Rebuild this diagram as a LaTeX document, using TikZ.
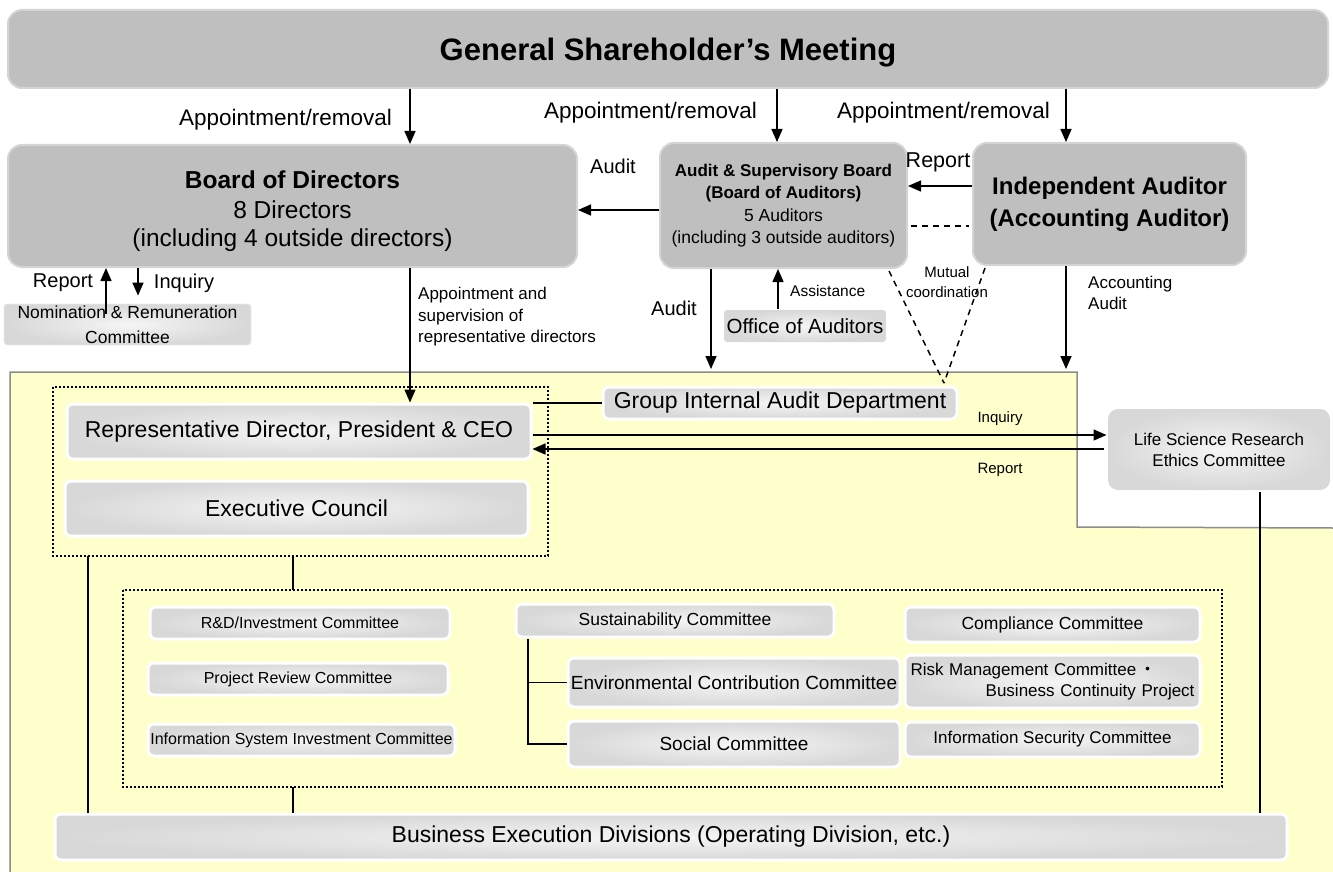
\documentclass[tikz,border=0pt]{standalone}
\usepackage{fontspec}
\setmainfont{Liberation Sans}
\newfontfamily\cjk{Noto Sans CJK JP}
\usetikzlibrary{arrows.meta,calc}
\definecolor{boxgray}{HTML}{BFBFBF}
\definecolor{boxedge}{HTML}{D4D4D4}
\definecolor{lightin}{HTML}{F5F5F5}
\definecolor{lightout}{HTML}{D8D8D8}
\definecolor{yel}{HTML}{FFFFCC}
\definecolor{yeledge}{HTML}{8C8C8C}
\newcommand\fsz[2]{\fontsize{#1}{#2}\selectfont}
\tikzset{
  bigbox/.style={draw=boxedge, line width=2pt, fill=boxgray, rounded corners=14pt, inner sep=0pt, align=center},
  gradbox/.style={draw=white, line width=3pt, inner color=lightin, outer color=lightout, rounded corners=6pt, inner sep=0pt, align=center},
  nombox/.style={draw=white!92!black, line width=0.8pt, inner color=lightin, outer color=lightout, rounded corners=3pt, inner sep=0pt, align=center},
  arr/.style={-{Triangle[length=13pt,width=11pt]}, line width=1.5pt},
  plain/.style={line width=1.5pt},
  dashln/.style={line width=1.5pt, dash pattern=on 6pt off 5pt},
  dotbox/.style={line width=1.6pt, dash pattern=on 1.6pt off 2.4pt},
  lbl/.style={inner sep=0pt, font=\fsz{22.5}{26}},
  slbl/.style={inner sep=0pt, font=\fsz{15}{21}, align=left},
  comm/.style={gradbox, font=\fsz{16}{20}, minimum height=32pt}
}
\begin{document}
\begin{tikzpicture}[x=1pt,y=-1pt]
\useasboundingbox (0,0) rectangle (1333,872);
% yellow execution area
\fill[yel] (10,872) -- (10,372) -- (1077,372) -- (1077,527) -- (1333,528) -- (1333,872) -- cycle;
\draw[yeledge, line width=1.5pt] (10,872) -- (10,372) -- (1077,372) -- (1077,527) -- (1333,528);
% x positions
\coordinate (x106) at (106,0);
\coordinate (x138) at (138,0);
\coordinate (x410) at (410,0);
\coordinate (x711) at (711,0);
\coordinate (x777) at (777,0);
\coordinate (x778) at (778,0);
\coordinate (x1066) at (1066,0);
\coordinate (x88) at (88,0);
\coordinate (x293) at (293,0);
\coordinate (x528) at (528,0);
\coordinate (x1260) at (1260,0);
\coordinate (y186) at (0,186);
\coordinate (y210) at (0,210);
\coordinate (y226) at (0,226);
\coordinate (y435) at (0,435);
\coordinate (y449) at (0,449);
\coordinate (yelTop711) at (711,369);
\coordinate (yelTop1066) at (1066,369);
\coordinate (mc) at (944,383);
% top level boxes
\node[bigbox, minimum width=1320pt, minimum height=78pt, font=\fsz{31}{36}\bfseries] (gsm) at (668,49) {\mbox{}\\[-6pt]General Shareholder’s Meeting};
\node[bigbox, minimum width=569pt, minimum height=122pt, font=\fsz{24.5}{29.5}] (bod) at (292.5,206) {\mbox{}\\[-1.6pt]\textbf{Board of Directors}\\[1pt]8 Directors\\[-2pt](including 4 outside directors)};
\node[bigbox, minimum width=247pt, minimum height=125pt, font=\fsz{17.5}{22.5}] (asb) at (783.5,205.5) {\textbf{\fsz{17}{24}Audit \& Supervisory Board}\\\textbf{\fsz{17}{24}(Board of Auditors)}\\5 Auditors\\(including 3 outside auditors)};
\node[bigbox, minimum width=273pt, minimum height=122pt, font=\fsz{24}{32}\bfseries] (ia) at (1109.5,204) {Independent Auditor\\(Accounting Auditor)};
\node[nombox, minimum width=247pt, minimum height=41pt, font=\fsz{17.5}{25}] (nom) at (127.5,324.5) {Nomination \& Remuneration\\Committee};
\node[gradbox, minimum width=162pt, minimum height=32pt, font=\fsz{20.5}{22}, rounded corners=3pt, draw=none] (oa) at (805,326) {Office of Auditors};
% dotted groups
\draw[dotbox] (53,387) rectangle (548,556);
\draw[dotbox] (123,590) rectangle (1222,787);
\coordinate (g1s) at (293,556);
\coordinate (g2n) at (293,590);
\coordinate (g2s) at (293,787);
\coordinate (g1s88) at (88,556);
% execution boxes
\node[gradbox, minimum width=464pt, minimum height=55pt, font=\fsz{23}{26}] (ceo) at (299,431.5) {Representative Director, President \& CEO};
\node[gradbox, minimum width=463pt, minimum height=55pt, font=\fsz{23}{26}] (exec) at (296.5,508.5) {Executive Council};
\node[gradbox, minimum width=354pt, minimum height=32pt, font=\fsz{23}{26}] (giad) at (780,403) {Group Internal Audit Department};
\node[gradbox, draw=none, rounded corners=10pt, minimum width=222pt, minimum height=81pt, font=\fsz{17}{21}] (ls) at (1219,449.5) {Life Science Research\\Ethics Committee};
\node[gradbox, minimum width=1232pt, minimum height=46pt, font=\fsz{23}{26}] (be) at (671,837) {Business Execution Divisions (Operating Division, etc.)};
% committees
\node[comm, minimum width=300pt] (rd) at (300,623) {R\&D/Investment Committee};
\node[comm, minimum width=300pt] (pr) at (298,679) {Project Review Committee};
\node[comm, minimum width=307pt] (is) at (301.5,740) {Information System Investment Committee};
\node[comm, minimum width=318pt, minimum height=33pt, font=\fsz{17.5}{20}] (sc) at (675,620.5) {Sustainability Committee};
\node[comm, minimum width=332pt, minimum height=49pt, font=\fsz{19}{22}] (ec) at (734,682.5) {Environmental Contribution Committee};
\node[comm, minimum width=332pt, minimum height=46pt, font=\fsz{19}{22}] (soc) at (734,744) {Social Committee};
\node[comm, minimum width=295pt, minimum height=35pt, font=\fsz{17.5}{20}] (cc) at (1052.5,624.5) {Compliance Committee};
\node[comm, minimum width=295pt, minimum height=53pt, align=left, text width=284pt, font=\fsz{17}{21}] (rm) at (1052.5,681.5) {Risk Management Committee\,{\cjk ・}\\\hspace*{\fill}Business Continuity Project\hspace*{4pt}};
\node[comm, minimum width=295pt, minimum height=35pt, font=\fsz{17}{20}] (isc) at (1052.5,739.5) {Information Security Committee};
% connectors: top
\draw[arr] (gsm.south -| x410) -- (bod.north -| x410);
\draw[arr] (gsm.south -| x777) -- (asb.north -| x777);
\draw[arr] (gsm.south -| x1066) -- (ia.north -| x1066);
\node[lbl, anchor=east] (lab1) at (392,120) {Appointment/removal};
\node[lbl, anchor=east] (lab2) at (757,113) {Appointment/removal};
\node[lbl, anchor=east] (lab3) at (1050,113) {Appointment/removal};
\draw[arr] (asb.west |- y210) -- (bod.east |- y210);
\node[lbl, font=\fsz{20}{22}] (labaudit) at (613,166) {Audit};
\draw[arr] (ia.west |- y186) -- (asb.east |- y186);
\node[lbl, font=\fsz{21.5}{22}] (labrep) at (938,162) {Report};
\draw[dashln] ([xshift=3pt]asb.east |- y226) -- ([xshift=-3pt]ia.west |- y226);
% report / inquiry with nomination committee
\draw[arr] ([yshift=-10pt]nom.north -| x106) -- (bod.south -| x106);
\draw[arr] (bod.south -| x138) -- ([yshift=8pt]nom.north -| x138);
\node[lbl, font=\fsz{20}{22}] (labrep2) at (63,283) {Report};
\node[lbl, font=\fsz{20}{22}] (labinq2) at (184,283) {Inquiry};
% board to CEO
\draw[arr] (bod.south -| x410) -- (ceo.north -| x410);
\node[slbl, anchor=north west, font=\fsz{17}{21.5}] (labapp) at (418,287) {Appointment and\\supervision of\\representative directors};
% audit board down
\draw[arr] (asb.south -| x711) -- (yelTop711);
\node[lbl, font=\fsz{20}{22}] (labaudit2) at (674,308) {Audit};
\draw[arr] (oa.north -| x778) -- (asb.south -| x778);
\node[slbl, anchor=west, font=\fsz{15.5}{21}] (labass) at (790,291) {Assistance};
% mutual coordination
\coordinate (mcA) at (889,271);
\coordinate (mcB) at (985,268);
\draw[dashln] (mcA) -- (mc);
\draw[dashln] (mcB) -- (mc);
\node[slbl, align=center, font=\fsz{15}{20}] (labmc) at (947,282) {Mutual\\coordination};
% accounting audit
\draw[arr] (ia.south -| x1066) -- (yelTop1066);
\node[slbl, anchor=north west, font=\fsz{17}{21}] (labacc) at (1088,276) {Accounting\\Audit};
% CEO connections
\draw[plain] (giad.west) -- (giad.west -| ceo.east);
\draw[arr] (ceo.east |- y435) -- (ls.west |- y435);
\draw[arr] ([xshift=-3pt]ls.west |- y449) -- (ceo.east |- y449);
\node[slbl] (labinq3) at (1000,419) {Inquiry};
\node[slbl] (labrep3) at (1000,470) {Report};
% vertical links
\draw[plain] (ls.south -| x1260) -- (be.north -| x1260);
\draw[plain] (g1s) -- (g2n);
\draw[plain] (g2s) -- (be.north -| x293);
\draw[plain] (g1s88) -- (be.north -| x88);
% sustainability bracket
\draw[plain] (sc.south -| x528) -- (soc.west -| x528) -- (soc.west);
\draw[plain] (ec.west -| x528) -- (ec.west);
\end{tikzpicture}
\end{document}
